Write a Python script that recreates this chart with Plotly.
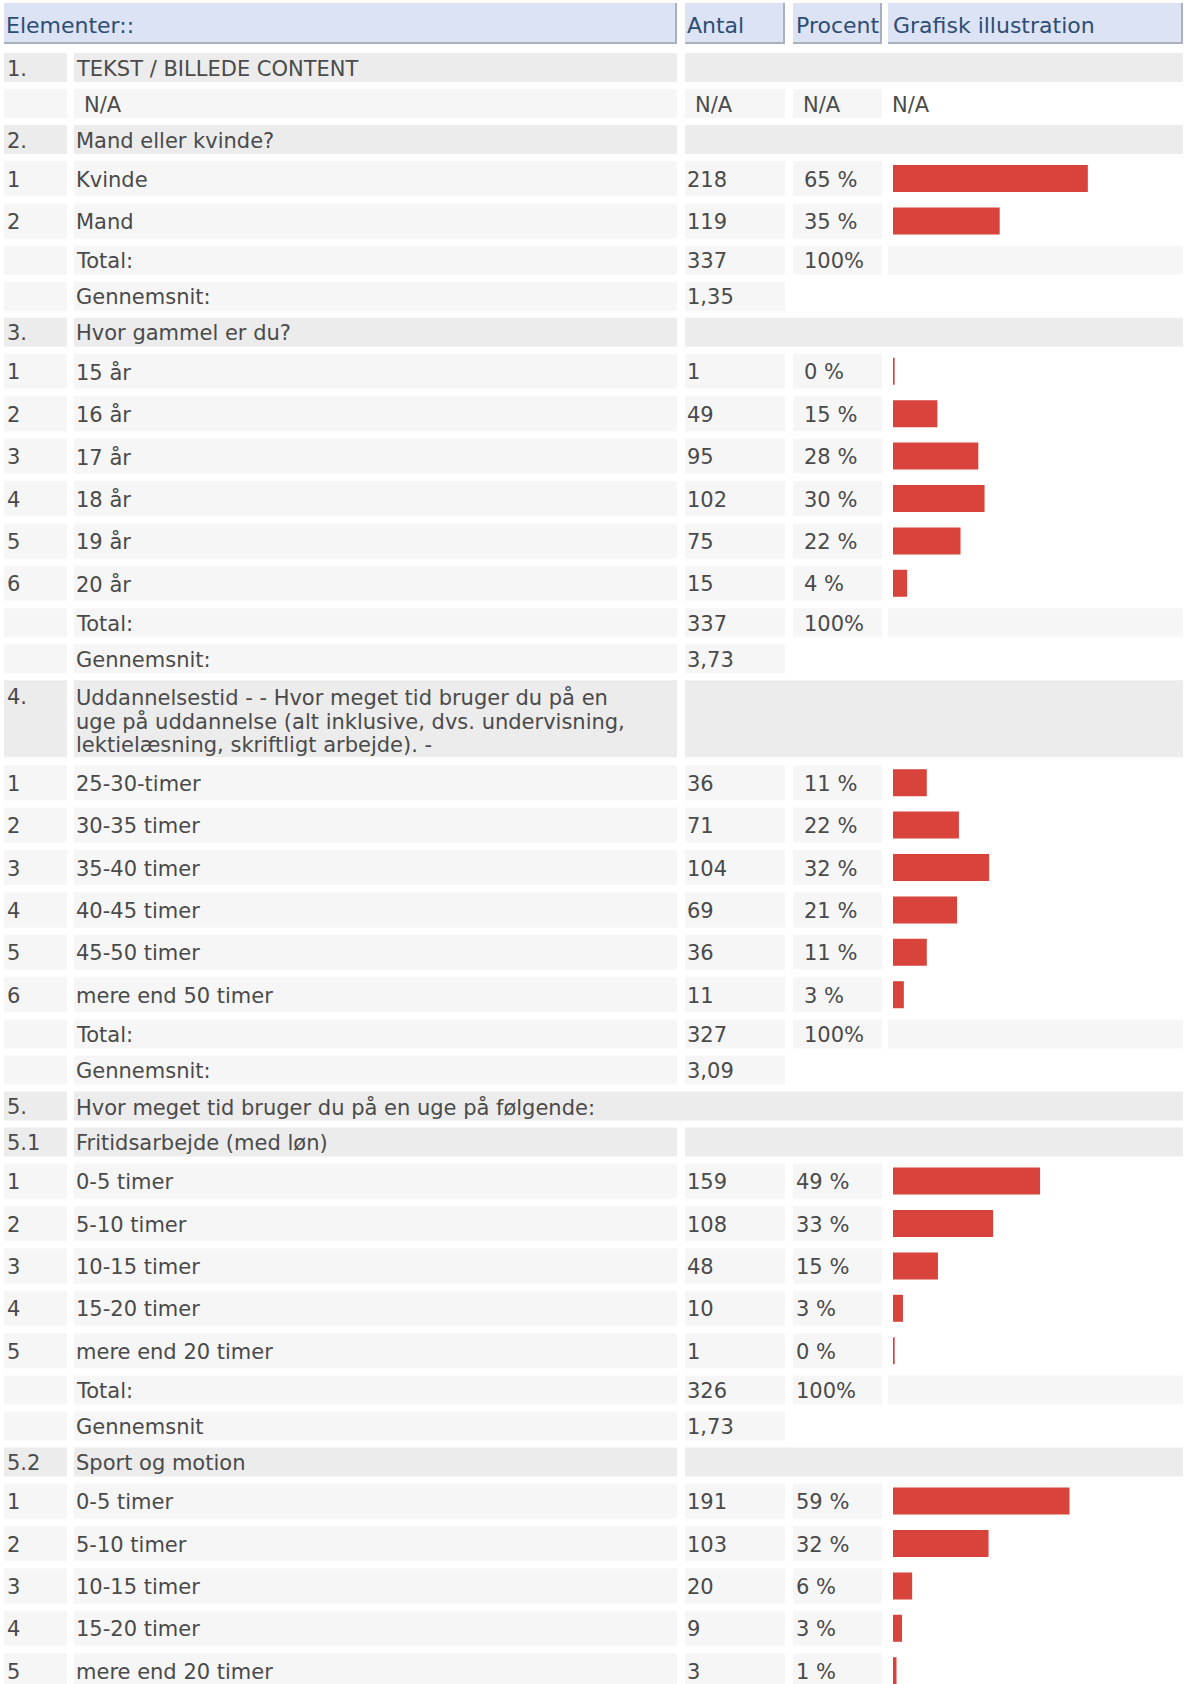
import plotly.graph_objects as go

# ---------------- data ----------------
header_labels = ["Elementer::", "Antal", "Procent", "Grafisk illustration"]

q1_no = "1."
q1_title = "TEKST / BILLEDE CONTENT"
q1_answer = "N/A"

q2_no = "2."
q2_title = "Mand eller kvinde?"
q2_codes = ["1", "2"]
q2_labels = ["Kvinde", "Mand"]
q2_counts = [218, 119]
q2_pcts = ["65 %", "35 %"]
q2_total = "337"
q2_mean = "1,35"

q3_no = "3."
q3_title = "Hvor gammel er du?"
q3_codes = ["1", "2", "3", "4", "5", "6"]
q3_labels = ["15 år", "16 år", "17 år", "18 år", "19 år", "20 år"]
q3_counts = [1, 49, 95, 102, 75, 15]
q3_pcts = ["0 %", "15 %", "28 %", "30 %", "22 %", "4 %"]
q3_total = "337"
q3_mean = "3,73"

q4_no = "4."
q4_title_lines = [
    "Uddannelsestid - - Hvor meget tid bruger du på en",
    "uge på uddannelse (alt inklusive, dvs. undervisning,",
    "lektielæsning, skriftligt arbejde). -",
]
q4_codes = ["1", "2", "3", "4", "5", "6"]
q4_labels = ["25-30-timer", "30-35 timer", "35-40 timer", "40-45 timer",
             "45-50 timer", "mere end 50 timer"]
q4_counts = [36, 71, 104, 69, 36, 11]
q4_pcts = ["11 %", "22 %", "32 %", "21 %", "11 %", "3 %"]
q4_total = "327"
q4_mean = "3,09"

q5_no = "5."
q5_title = "Hvor meget tid bruger du på en uge på følgende:"

q51_no = "5.1"
q51_title = "Fritidsarbejde (med løn)"
q51_codes = ["1", "2", "3", "4", "5"]
q51_labels = ["0-5 timer", "5-10 timer", "10-15 timer", "15-20 timer", "mere end 20 timer"]
q51_counts = [159, 108, 48, 10, 1]
q51_pcts = ["49 %", "33 %", "15 %", "3 %", "0 %"]
q51_total = "326"
q51_mean = "1,73"

q52_no = "5.2"
q52_title = "Sport og motion"
q52_codes = ["1", "2", "3", "4", "5"]
q52_labels = ["0-5 timer", "5-10 timer", "10-15 timer", "15-20 timer", "mere end 20 timer"]
q52_counts = [191, 103, 20, 9, 3]
q52_pcts = ["59 %", "32 %", "6 %", "3 %", "1 %"]

total_label = "Total:"
total_pct = "100%"
mean_label = "Gennemsnit:"
mean_label_nocolon = "Gennemsnit"
na_text = "N/A"

# ---------------- layout constants (pixels) ----------------
W, H = 1185, 1684
COL_NUM = (4, 67)
COL_LABEL = (74, 677)
COL_ANTAL = (685, 785)
COL_PCT = (793, 882)
COL_GRAF = (888, 1183)
BAR_X0 = 893
PX_PER_PCT = 3.0

X_NUM_TXT = 5
X_LABEL_TXT = 74
X_NA_LABEL_TXT = 82
X_ANTAL_TXT = 685
X_ANTAL_NA_TXT = 693
X_PCT_TXT_A = 802     # sections 1-4
X_PCT_TXT_B = 794     # section 5
X_PCT_NA_TXT = 801
X_GRAF_NA_TXT = 890

HEADER_Y = (3, 44)
TOP = 53
PITCH = {"S": 36.0, "B": 42.4, "T": 85.0}
HEIGHT = {"S": 29.0, "B": 35.0, "T": 77.0}
BAR_H = 25.5

TITLE_BG = "#ececec"
CELL_BG = "#f6f6f6"
HEAD_BG = "#dce3f4"
HEAD_BORDER = "#aab0c0"
HEAD_TXT = "#2e4d74"
TXT = "#4a4a4a"
BAR_COLOR = "#d8433b"
FONT = "DejaVu Sans"
FS = 21

# ---------------- build rows ----------------
rows = []


def add_section(no, title, codes, labels, counts, pcts, total, mean, mlabel, pct_x):
    rows.append(dict(kind="title", size="S", no=no, label=title))
    tot = sum(counts)
    for c, lab, n, p in zip(codes, labels, counts, pcts):
        rows.append(dict(kind="item", size="B", no=c, label=lab, antal=str(n),
                         pct=p, share=n / tot * 100, pct_x=pct_x))
    if total is not None:
        rows.append(dict(kind="total", size="S", label=total_label, antal=total,
                         pct=total_pct, pct_x=pct_x))
    if mean is not None:
        rows.append(dict(kind="mean", size="S", label=mlabel, antal=mean))


rows.append(dict(kind="title", size="S", no=q1_no, label=q1_title))
rows.append(dict(kind="na", size="S", label=q1_answer, antal=na_text, pct=na_text,
                 graf=na_text, pct_x=X_PCT_NA_TXT))
add_section(q2_no, q2_title, q2_codes, q2_labels, q2_counts, q2_pcts, q2_total, q2_mean,
            mean_label, X_PCT_TXT_A)
add_section(q3_no, q3_title, q3_codes, q3_labels, q3_counts, q3_pcts, q3_total, q3_mean,
            mean_label, X_PCT_TXT_A)
# section 4 has a tall three-line title row
rows.append(dict(kind="title", size="T", no=q4_no, lines=q4_title_lines))
tot4 = sum(q4_counts)
for c, lab, n, p in zip(q4_codes, q4_labels, q4_counts, q4_pcts):
    rows.append(dict(kind="item", size="B", no=c, label=lab, antal=str(n), pct=p,
                     share=n / tot4 * 100, pct_x=X_PCT_TXT_A))
rows.append(dict(kind="total", size="S", label=total_label, antal=q4_total, pct=total_pct,
                 pct_x=X_PCT_TXT_A))
rows.append(dict(kind="mean", size="S", label=mean_label, antal=q4_mean))
rows.append(dict(kind="title_full", size="S", no=q5_no, label=q5_title))
add_section(q51_no, q51_title, q51_codes, q51_labels, q51_counts, q51_pcts, q51_total,
            q51_mean, mean_label_nocolon, X_PCT_TXT_B)
add_section(q52_no, q52_title, q52_codes, q52_labels, q52_counts, q52_pcts, None, None,
            None, X_PCT_TXT_B)

# ---------------- figure ----------------
shapes = []
annotations = []


def rect(x0, x1, y0, y1, color):
    shapes.append(dict(type="rect", xref="x", yref="y", x0=x0, x1=x1, y0=y0, y1=y1,
                       fillcolor=color, line=dict(width=0), layer="below"))


def text(x, y, s, color=TXT, size=FS, yanchor="middle"):
    annotations.append(dict(x=x, y=y, xref="x", yref="y", text=s, showarrow=False,
                            xanchor="left", yanchor=yanchor,
                            font=dict(family=FONT, size=size, color=color)))


# header
head_cols = [(COL_NUM[0], COL_LABEL[1]), COL_ANTAL, COL_PCT, COL_GRAF]
head_text_x = [4, 685, 794, 891]
hy = (HEADER_Y[0] + HEADER_Y[1]) / 2
for (x0, x1), tx, lab in zip(head_cols, head_text_x, header_labels):
    rect(x0, x1, HEADER_Y[0], HEADER_Y[1], HEAD_BG)
    shapes.append(dict(type="line", xref="x", yref="y", x0=x1 - 1, x1=x1 - 1,
                       y0=HEADER_Y[0], y1=HEADER_Y[1], line=dict(color=HEAD_BORDER, width=2),
                       layer="below"))
    shapes.append(dict(type="line", xref="x", yref="y", x0=x0, x1=x1,
                       y0=HEADER_Y[1] - 1, y1=HEADER_Y[1] - 1,
                       line=dict(color=HEAD_BORDER, width=2), layer="below"))
    text(tx, hy + 2, lab, color=HEAD_TXT, size=22)

bar_y, bar_x = [], []
y = TOP
for r in rows:
    h = HEIGHT[r["size"]]
    y0, y1 = y, y + h
    cy = (y0 + y1) / 2 + 1
    k = r["kind"]
    if k in ("title", "title_full"):
        rect(*COL_NUM, y0, y1, TITLE_BG)
        if k == "title_full":
            rect(COL_LABEL[0], COL_GRAF[1], y0, y1, TITLE_BG)
        else:
            rect(*COL_LABEL, y0, y1, TITLE_BG)
            rect(COL_ANTAL[0], COL_GRAF[1], y0, y1, TITLE_BG)
        if "lines" in r:
            text(X_NUM_TXT, y0 + 17, r["no"])
            for i, ln in enumerate(r["lines"]):
                text(X_LABEL_TXT, y0 + 17 + 24 * i, ln)
        else:
            text(X_NUM_TXT, cy, r["no"])
            text(X_LABEL_TXT, cy, r["label"])
    else:
        rect(*COL_NUM, y0, y1, CELL_BG)
        rect(*COL_LABEL, y0, y1, CELL_BG)
        rect(*COL_ANTAL, y0, y1, CELL_BG)
        if k in ("item", "total", "na"):
            rect(*COL_PCT, y0, y1, CELL_BG)
        if k == "total":
            rect(*COL_GRAF, y0, y1, CELL_BG)
        if r.get("no"):
            text(X_NUM_TXT, cy, r["no"])
        if k == "na":
            text(X_NA_LABEL_TXT, cy, r["label"])
            text(X_ANTAL_NA_TXT, cy, r["antal"])
            text(r["pct_x"], cy, r["pct"])
            text(X_GRAF_NA_TXT, cy, r["graf"])
        else:
            text(X_LABEL_TXT, cy, r["label"])
            text(X_ANTAL_TXT, cy, r["antal"])
            if "pct" in r:
                text(r["pct_x"], cy, r["pct"])
        if k == "item":
            bar_y.append((y0 + y1) / 2)
            bar_x.append(r["share"])
    y += PITCH[r["size"]]

fig = go.Figure()
fig.add_trace(go.Bar(
    x=bar_x, y=bar_y, orientation="h", width=BAR_H, base=0,
    xaxis="x2", yaxis="y",
    marker=dict(color=BAR_COLOR, line=dict(color=BAR_COLOR, width=1.5)),
    hoverinfo="skip", showlegend=False,
))

fig.update_layout(
    width=W, height=H,
    margin=dict(l=0, r=0, t=0, b=0, pad=0),
    paper_bgcolor="white", plot_bgcolor="rgba(0,0,0,0)",
    xaxis=dict(range=[0, W], domain=[0, 1], visible=False, fixedrange=True),
    xaxis2=dict(range=[0, (W - BAR_X0) / PX_PER_PCT], domain=[BAR_X0 / W, 1],
                anchor="y", visible=False, fixedrange=True),
    yaxis=dict(range=[H, 0], domain=[0, 1], visible=False, fixedrange=True),
    shapes=shapes, annotations=annotations,
    showlegend=False,
)

fig.write_html("out.html", config={"displayModeBar": False},
               post_script="document.body.style.margin='0';document.body.style.overflow='hidden';")
